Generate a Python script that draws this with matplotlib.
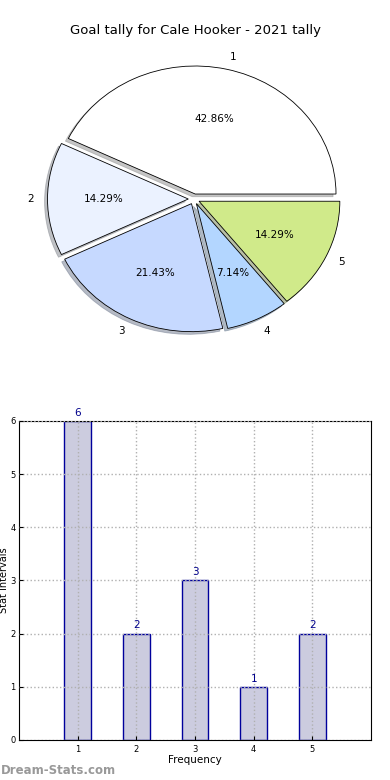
import matplotlib
matplotlib.use('Agg')
import matplotlib.pyplot as plt
import numpy as np

categories = ['1', '2', '3', '4', '5']
goals = [6, 2, 3, 1, 2]
pie_colors = ['#ffffff', '#ebf2ff', '#c6d9ff', '#b3d6ff', '#d0ea8a']
title = 'Goal tally for Cale Hooker - 2021 tally'

fig = plt.figure(figsize=(3.9, 7.8), dpi=100)

# pie (old style, not forced to equal aspect)
ax1 = fig.add_axes([0.046, 0.5397, 0.9026, 0.4103])
wedges, texts, autotexts = ax1.pie(goals, labels=categories, colors=pie_colors,
                                   explode=[0.04] * 5,
                                   shadow=dict(ox=-0.015, oy=-0.015, shade=0.45),
                                   startangle=0,
                                   autopct='%1.2f%%', pctdistance=0.6,
                                   wedgeprops=dict(edgecolor='black', linewidth=0.6),
                                   textprops=dict(fontsize=7.5))
ax1.set_aspect('auto')
ax1.set_xlim(-1.25, 1.25)
ax1.set_ylim(-1.25, 1.25)
fig.text(0.5, 0.961, title, ha='center', va='center', fontsize=9.5)

# bar chart
ax2 = fig.add_axes([0.0487, 0.0513, 0.9026, 0.4090])
x = np.arange(1, len(goals) + 1)
bars = ax2.bar(x, goals, width=0.45, color='#ccccdf', edgecolor='#00009c', linewidth=1)
for xi, g in zip(x, goals):
    ax2.text(xi, g + 0.06, str(g), ha='center', va='bottom', fontsize=7.5, color='#00008b')
ax2.set_xlim(0, 6)
ax2.set_ylim(0, 6)
ax2.set_xticks(x)
ax2.set_xticklabels(categories)
ax2.set_yticks(range(0, 7))
ax2.tick_params(labelsize=6, direction='in', length=3)
ax2.tick_params(axis='y', pad=2.5)
ax2.grid(True, linestyle=':', color='#b0b0b0', linewidth=1)
ax2.set_axisbelow(False)
ax2.set_xlabel('Frequency', fontsize=7.5, labelpad=1)
ax2.set_ylabel('Stat Intervals', fontsize=7)
ax2.yaxis.set_label_coords(-0.028, 0.5)

fig.text(0.002, 0.012, 'Dream-Stats.com', fontsize=8.5, color='#999999',
         fontweight='bold', ha='left', va='center')

fig.savefig('out.png', dpi=100)
